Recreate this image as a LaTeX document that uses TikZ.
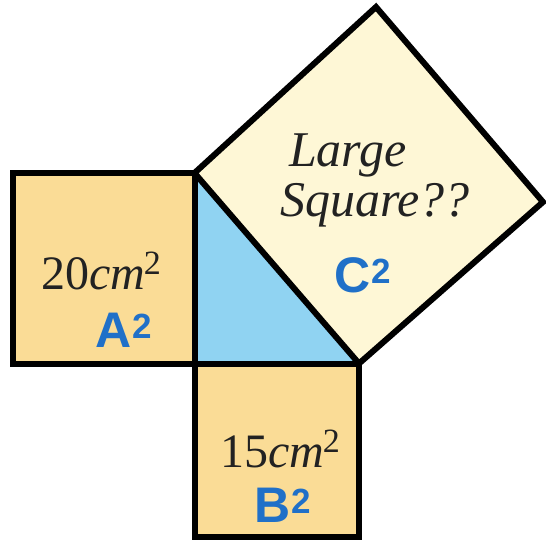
\documentclass[tikz,border=0pt]{standalone}
\usepackage{fontspec}
\setmainfont{Liberation Serif}
\newfontfamily\handfont{Liberation Sans}
\usetikzlibrary{calc, positioning}

\definecolor{sqorange}{HTML}{FADC96}
\definecolor{sqcream}{HTML}{FEF7D6}
\definecolor{triblue}{HTML}{90D3F2}
\definecolor{penblue}{HTML}{2070C8}
\definecolor{inkgray}{HTML}{222222}

\newcommand{\sqsup}{\kern-1pt\raisebox{15pt}{\fontsize{34}{34}\selectfont 2}}

\tikzset{
  edge/.style={line width=6pt, line join=miter},
  area/.style={inner sep=0pt, text=inkgray, font=\fontsize{48}{50}\selectfont},
  hand/.style={inner sep=0pt, text=penblue, font=\handfont\bfseries\fontsize{50}{50}\selectfont}
}

\begin{document}
\begin{tikzpicture}[x=1pt, y=-1pt]
\useasboundingbox (0,0) rectangle (546,542);

\coordinate (A) at (194.5,173);
\coordinate (R) at (194.5,363.5);
\coordinate (C) at (359,363.5);
\coordinate (T) at (376,7);
\coordinate (Q) at (543,202);
\coordinate (L1) at (12.5,173);
\coordinate (L2) at (12.5,363.5);
\coordinate (B1) at (194.5,536.5);
\coordinate (B2) at (359,536.5);

\fill[sqorange] (L1) -- (A) -- (R) -- (L2) -- cycle;
\fill[sqorange] (R) -- (C) -- (B2) -- (B1) -- cycle;
\fill[sqcream] (A) -- (T) -- (Q) -- (C) -- cycle;
\fill[triblue] (A) -- (R) -- (C) -- cycle;

\draw[edge] (L1) -- (A) -- (R) -- (L2) -- cycle;
\draw[edge] (R) -- (C) -- (B2) -- (B1) -- cycle;
\draw[edge] (A) -- (T) -- (Q) -- (C) -- cycle;

\node[area] (areaA) at (101,271) {20\textit{cm}\sqsup};
\node[area] (areaB) at (280,449) {15\textit{cm}\sqsup};
\node[area, align=left, font=\fontsize{50}{50}\selectfont\itshape] (areaC) at (375,180) {\hspace*{9pt}Large\\Square??};

\node[hand] (labA) at (124,330) {A\textsuperscript{2}};
\node[hand] (labB) at (283,505) {B\textsuperscript{2}};
\node[hand] (labC) at (363,275) {C\textsuperscript{2}};
\end{tikzpicture}
\end{document}
